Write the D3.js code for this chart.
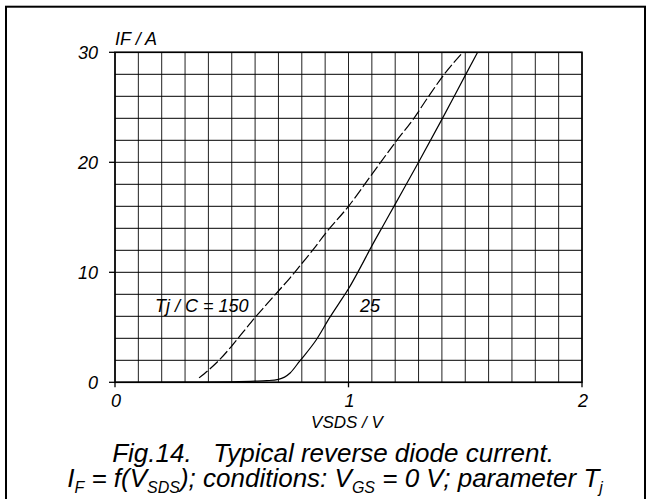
<!DOCTYPE html>
<html>
<head>
<meta charset="utf-8">
<script src="https://cdn.jsdelivr.net/npm/d3@7"></script>
<style>
  html, body { margin: 0; padding: 0; background: #fff; }
  svg { display: block; }
  text { font-family: "Liberation Sans", Arial, sans-serif; font-style: italic; fill: #000; white-space: pre; }
</style>
</head>
<body>
<svg id="chart" width="650" height="499"></svg>
<script>
// ---- data ----
const xTicks = [0, 1, 2];
const xTickLabels = ["0", "1", "2"];
const yTicks = [0, 10, 20, 30];
const yTickLabels = ["0", "10", "20", "30"];
const xGridStep = 0.1;
const yGridStep = 2;

// Tj = 25 C (solid)
const v25 = [0, 0.30, 0.50, 0.60, 0.65, 0.70, 0.75, 0.79, 0.86, 0.92, 0.96, 1.00, 1.05, 1.10, 1.15, 1.20, 1.30, 1.40, 1.50, 1.553];
const i25 = [0, 0.02, 0.05, 0.10, 0.15, 0.27, 0.85, 1.90, 3.80, 5.90, 7.20, 8.50, 10.4, 12.4, 14.3, 16.2, 20.0, 23.9, 27.9, 30.0];

// Tj = 150 C (dashed)
const v150 = [0.36, 0.40, 0.45, 0.50, 0.55, 0.60, 0.65, 0.70, 0.75, 0.80, 0.85, 0.90, 1.00, 1.10, 1.20, 1.28, 1.34, 1.41, 1.49];
const i150 = [0.4, 1.1, 2.1, 3.3, 4.6, 5.9, 7.1, 8.3, 9.5, 10.8, 12.1, 13.5, 16.0, 18.9, 21.8, 24.0, 25.9, 28.0, 30.0];

const yAxisTitle = "IF / A";
const xAxisTitle = "VSDS / V";
const label150 = "Tj / C = 150";
const label25 = "25";

// ---- layout ----
const svg = d3.select("#chart");
const pLeft = 115, pRight = 582, pTop = 52.3, pBottom = 382.3;

const x = d3.scaleLinear().domain([0, 2]).range([pLeft, pRight]);
const y = d3.scaleLinear().domain([0, 30]).range([pBottom, pTop]);

// outer border
svg.append("rect")
  .attr("x", 6).attr("y", 6.7).attr("width", 639).attr("height", 600)
  .attr("fill", "none").attr("stroke", "#000").attr("stroke-width", 2);

// grid
const g = svg.append("g");
const xGrid = d3.range(0, 21).map(k => k * xGridStep);
const yGrid = d3.range(0, 16).map(k => k * yGridStep);

g.selectAll("line.vg").data(xGrid).join("line")
  .attr("x1", d => x(d)).attr("x2", d => x(d))
  .attr("y1", y(0)).attr("y2", y(30))
  .attr("stroke", "#222").attr("stroke-width", 1);

g.selectAll("line.hg").data(yGrid).join("line")
  .attr("x1", x(0)).attr("x2", x(2))
  .attr("y1", d => y(d)).attr("y2", d => y(d))
  .attr("stroke", "#000").attr("stroke-width", 1);

// frame
g.append("rect")
  .attr("x", x(0)).attr("y", y(30))
  .attr("width", x(2) - x(0)).attr("height", y(0) - y(30))
  .attr("fill", "none").attr("stroke", "#000").attr("stroke-width", 1.6);

// y ticks
g.selectAll("line.yt").data(yTicks).join("line")
  .attr("x1", x(0) - 6).attr("x2", x(0))
  .attr("y1", d => y(d)).attr("y2", d => y(d))
  .attr("stroke", "#000").attr("stroke-width", 1.3);
g.selectAll("text.yl").data(yTicks).join("text")
  .attr("x", 98).attr("y", d => y(d)).attr("dy", "0.36em")
  .attr("text-anchor", "end").attr("font-size", 18)
  .text((d, i) => yTickLabels[i]);

// x ticks
g.selectAll("line.xt").data(xTicks).join("line")
  .attr("x1", d => x(d)).attr("x2", d => x(d))
  .attr("y1", y(0)).attr("y2", y(0) + 5)
  .attr("stroke", "#000").attr("stroke-width", 1.3);
g.selectAll("text.xl").data(xTicks).join("text")
  .attr("x", d => x(d) + 1).attr("y", 407)
  .attr("text-anchor", "middle").attr("font-size", 18)
  .text((d, i) => xTickLabels[i]);

// axis titles
svg.append("text").attr("x", 115).attr("y", 45).attr("font-size", 18).text(yAxisTitle);
svg.append("text").attr("x", 347).attr("y", 428).attr("text-anchor", "middle").attr("font-size", 17).text(xAxisTitle);

// curves
const line = d3.line().x(d => x(d[0])).y(d => y(d[1])).curve(d3.curveMonotoneX);
const d25 = v25.map((v, i) => [v, i25[i]]);
const d150 = v150.map((v, i) => [v, i150[i]]);

svg.append("path").attr("d", line(d25))
  .attr("fill", "none").attr("stroke", "#000").attr("stroke-width", 1.2);
svg.append("path").attr("d", line(d150))
  .attr("fill", "none").attr("stroke", "#000").attr("stroke-width", 1.2)
  .attr("stroke-dasharray", "11,3");

// curve labels
svg.append("text").attr("x", 155).attr("y", 312).attr("font-size", 18).text(label150);
svg.append("text").attr("x", 360).attr("y", 312).attr("font-size", 18).text(label25);

// caption
svg.append("text").attr("x", 333).attr("y", 462).attr("text-anchor", "middle")
  .attr("font-size", 26)
  .text("Fig.14.   Typical reverse diode current.");

const cap = svg.append("text").attr("x", 335).attr("y", 487).attr("text-anchor", "middle")
  .attr("font-size", 26);
const parts = [
  ["I", false], ["F", true], [" = f(V", false], ["SDS", true], ["); conditions: V", false],
  ["GS", true], [" = 0 V; parameter T", false], ["j", true]
];
parts.forEach(([t, sub], i) => {
  const ts = cap.append("tspan").text(t);
  if (sub) {
    ts.attr("font-size", 16).attr("dy", 6);
  } else if (i > 0) {
    ts.attr("dy", -6);
  }
});
</script>
</body>
</html>
